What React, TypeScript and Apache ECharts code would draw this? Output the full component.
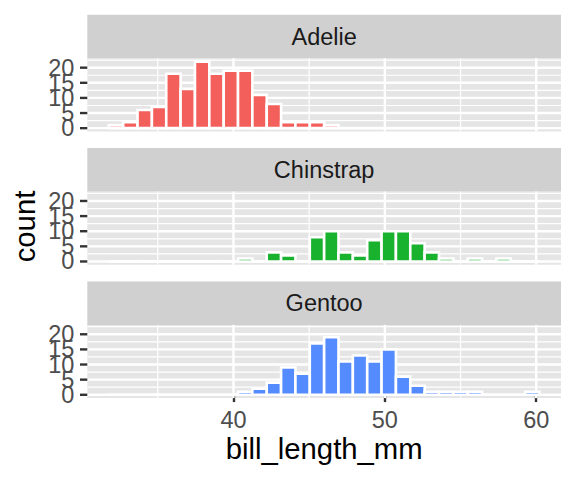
import { useEffect, useRef } from "react";
import * as echarts from "echarts";

// ---- data ----
const SPECIES = ["Adelie", "Chinstrap", "Gentoo"];
const COLORS = ["#F35F5B", "#19B22F", "#548BFF"];
const BIN_START = 31.767;
const BIN_WIDTH = 0.948276;
const ADELIE = [1, 2, 6, 7, 18, 13, 22, 18, 19, 19, 11, 8, 2, 2, 2, 1, 0, 0, 0, 0, 0, 0, 0, 0, 0, 0, 0, 0, 0, 0];
const CHINSTRAP = [0, 0, 0, 0, 0, 0, 0, 0, 0, 1, 0, 3, 2, 0, 8, 10, 3, 2, 7, 10, 10, 6, 3, 1, 0, 1, 0, 1, 0, 0];
const GENTOO = [0, 0, 0, 0, 0, 0, 0, 0, 0, 1, 2, 4, 9, 7, 17, 19, 11, 13, 11, 15, 6, 3, 1, 1, 1, 1, 0, 0, 0, 1];
const COUNTS = [ADELIE, CHINSTRAP, GENTOO];
const X_TICKS = [40, 50, 60];
const X_MINOR = [35, 45, 55];
const Y_TICKS = [0, 5, 10, 15, 20];
const Y_MINOR = [2.5, 7.5, 12.5, 17.5, 22.5];

// ---- layout ----
const FONT = "'Liberation Sans', Arial, Helvetica, sans-serif";
const PANEL_LEFT = 87.3;
const PANEL_W = 473.7;
const PANEL_H = 73.2;
const STRIP_H = 43.5;
const PANEL_TOPS = [58.3, 191.6, 324.9];
const TICK_LEN = 7.3;
const LABEL_GAP = 13;

export default function App() {
  const ref = useRef<HTMLDivElement>(null);
  useEffect(() => {
    document.body.style.margin = "0";
    const chart = echarts.init(ref.current!, null, { renderer: "svg" });

    const nBins = ADELIE.length;
    const binEnd = BIN_START + nBins * BIN_WIDTH;
    const xPad = (binEnd - BIN_START) * 0.05;
    const xMin = BIN_START - xPad;
    const xMax = binEnd + xPad;
    const yMaxCount = Math.max(...COUNTS.flat());
    const yMin = -yMaxCount * 0.05;
    const yMax = yMaxCount * 1.05;

    const gridRows: number[][] = [
      ...X_TICKS.map((v) => [v, 0, 1]),
      ...X_MINOR.map((v) => [v, 0, 0]),
      ...Y_TICKS.map((v) => [v, 1, 1]),
      ...Y_MINOR.map((v) => [v, 1, 0]),
    ];

    const grids: any[] = [];
    const xAxes: any[] = [];
    const yAxes: any[] = [];
    const series: any[] = [];
    const graphics: any[] = [];

    SPECIES.forEach((sp, i) => {
      const top = PANEL_TOPS[i];
      grids.push({
        left: PANEL_LEFT,
        top,
        width: PANEL_W,
        height: PANEL_H,
        show: true,
        backgroundColor: "#E5E5E5",
        borderWidth: 0,
        containLabel: false,
      });
      const last = i === SPECIES.length - 1;
      xAxes.push({
        type: "value",
        gridIndex: i,
        min: xMin,
        max: xMax,
        axisLine: { show: false },
        splitLine: { show: false },
        axisTick: {
          show: last,
          customValues: X_TICKS,
          length: TICK_LEN,
          lineStyle: { color: "#333333", width: 2.4 },
        },
        axisLabel: {
          show: last,
          customValues: X_TICKS,
          showMinLabel: true,
          showMaxLabel: true,
          color: "#4D4D4D",
          fontSize: 23.5,
          fontFamily: FONT,
          margin: 10,
        },
      });
      yAxes.push({
        type: "value",
        gridIndex: i,
        min: yMin,
        max: yMax,
        axisLine: { show: false },
        splitLine: { show: false },
        axisTick: { show: false },
        axisLabel: { show: false },
      });
      // panel grid lines
      series.push({
        type: "custom",
        xAxisIndex: i,
        yAxisIndex: i,
        silent: true,
        z: 1,
        data: gridRows,
        renderItem: (params: any, api: any) => {
          const cs = params.coordSys;
          const v = api.value(0);
          const orient = api.value(1);
          const major = api.value(2) === 1;
          const lw = major ? 2.4 : 1.2;
          if (orient === 0) {
            const x = api.coord([v, 0])[0];
            return {
              type: "line",
              shape: { x1: x, y1: cs.y, x2: x, y2: cs.y + cs.height },
              style: { stroke: "#FFFFFF", lineWidth: lw },
            };
          }
          const y = api.coord([xMin, v])[1];
          return {
            type: "line",
            shape: { x1: cs.x, y1: y, x2: cs.x + cs.width, y2: y },
            style: { stroke: "#FFFFFF", lineWidth: lw },
          };
        },
      });
      // y-axis ticks and labels (ggplot draws all of them, even when they overlap)
      series.push({
        type: "custom",
        xAxisIndex: i,
        yAxisIndex: i,
        silent: true,
        z: 4,
        data: Y_TICKS.map((v) => [xMin, v]),
        renderItem: (params: any, api: any) => {
          const cs = params.coordSys;
          const v = api.value(1);
          const y = api.coord([xMin, v])[1];
          return {
            type: "group",
            children: [
              {
                type: "line",
                shape: { x1: cs.x - TICK_LEN, y1: y, x2: cs.x, y2: y },
                style: { stroke: "#333333", lineWidth: 2.4 },
              },
              {
                type: "text",
                x: cs.x - LABEL_GAP,
                y,
                style: {
                  text: String(v),
                  fill: "#4D4D4D",
                  fontSize: 23.5,
                  fontFamily: FONT,
                  align: "right",
                  verticalAlign: "middle",
                },
              },
            ],
          };
        },
      });
      const barRows = COUNTS[i].map((c, k) => [
        BIN_START + k * BIN_WIDTH,
        BIN_START + (k + 1) * BIN_WIDTH,
        c,
      ]);
      const color = COLORS[i];
      series.push({
        type: "custom",
        name: sp,
        xAxisIndex: i,
        yAxisIndex: i,
        silent: true,
        z: 3,
        encode: { x: [0, 1], y: 2 },
        data: barRows,
        renderItem: (_params: any, api: any) => {
          const p0 = api.coord([api.value(0), api.value(2)]);
          const p1 = api.coord([api.value(1), 0]);
          return {
            type: "rect",
            shape: { x: p0[0], y: p0[1], width: p1[0] - p0[0], height: p1[1] - p0[1] },
            style: { fill: color, stroke: "#FFFFFF", lineWidth: 2.6 },
          };
        },
      });
      graphics.push({
        type: "rect",
        silent: true,
        shape: { x: PANEL_LEFT, y: top - STRIP_H, width: PANEL_W, height: STRIP_H },
        style: { fill: "#D0D0D0" },
      });
      graphics.push({
        type: "text",
        silent: true,
        x: PANEL_LEFT + PANEL_W / 2,
        y: top - STRIP_H / 2,
        style: {
          text: sp,
          fill: "#1A1A1A",
          fontSize: 23.5,
          fontFamily: FONT,
          align: "center",
          verticalAlign: "middle",
        },
      });
    });

    graphics.push({
      type: "text",
      silent: true,
      x: PANEL_LEFT + PANEL_W / 2,
      y: 448,
      style: {
        text: "bill_length_mm",
        fill: "#000000",
        fontSize: 29.3,
        fontFamily: FONT,
        align: "center",
        verticalAlign: "middle",
      },
    });
    graphics.push({
      type: "text",
      silent: true,
      x: 24,
      y: 226.5,
      rotation: Math.PI / 2,
      style: {
        text: "count",
        fill: "#000000",
        fontSize: 29.3,
        fontFamily: FONT,
        align: "center",
        verticalAlign: "middle",
      },
    });

    chart.setOption({
      animation: false,
      backgroundColor: "#FFFFFF",
      grid: grids,
      xAxis: xAxes,
      yAxis: yAxes,
      series,
      graphic: { elements: graphics },
    });
    return () => chart.dispose();
  }, []);
  return <div ref={ref} style={{ width: 576, height: 480 }} />;
}
